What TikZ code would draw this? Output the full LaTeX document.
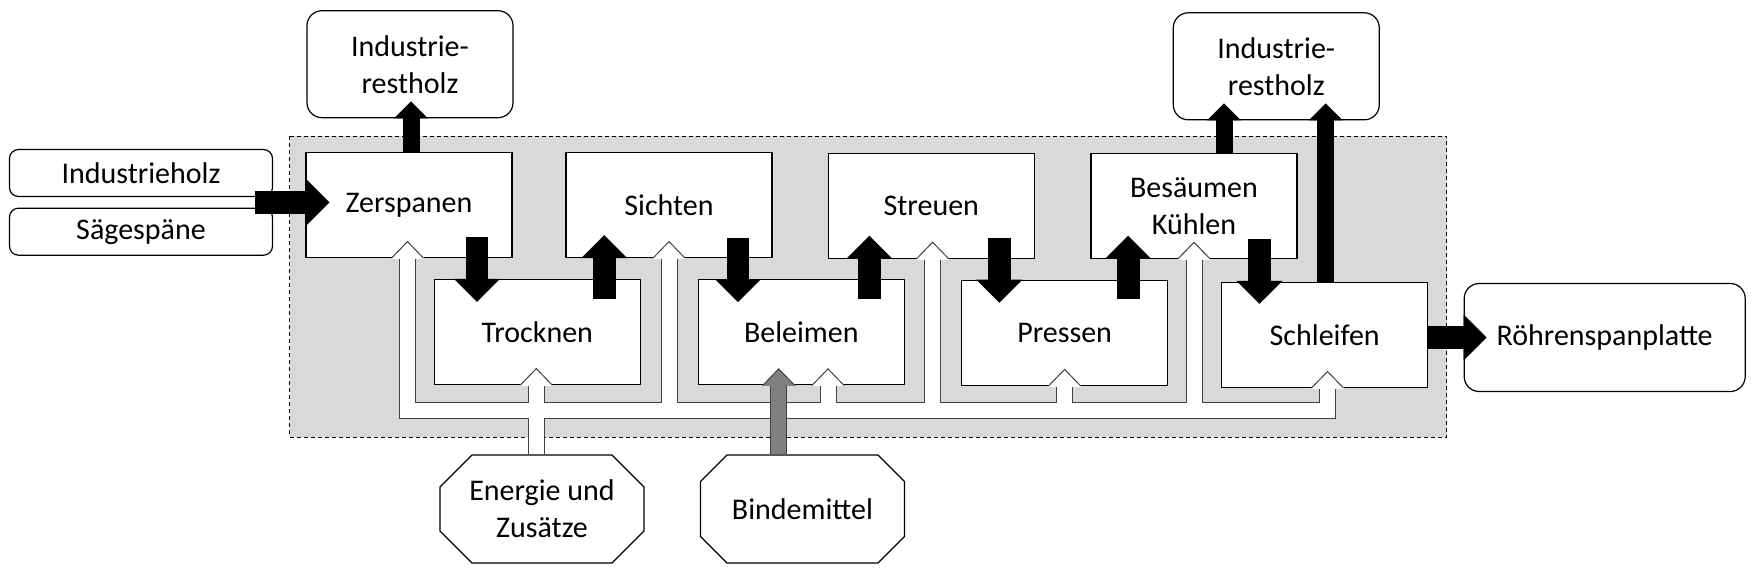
\documentclass[tikz,border=0pt]{standalone}
\usepackage{tikz, xcolor}
\usepackage{fontspec}
\setmainfont{Carlito}
\usetikzlibrary{shapes.misc, arrows.meta, calc}
\newcommand{\unitsize}{0.5pt}
\newcommand{\pipehead}[2]{%
\fill[#2] ([xshift=-16*\unitsize,yshift=-1*\unitsize]#1) rectangle ([xshift=16*\unitsize,yshift=1*\unitsize]#1);
\filldraw[fill=#2, draw=black!75, line width=0.5pt] ([xshift=-16*\unitsize]#1) -- ([yshift=16.5*\unitsize]#1) -- ([xshift=16*\unitsize]#1);
}

\begin{document}
\begin{tikzpicture}
\useasboundingbox (0,0) rectangle (1753*\unitsize,-575*\unitsize);
\tikzstyle{every node}=[font=\fontsize{15pt}{18.5pt}\selectfont,
			align=center,
			inner sep=0pt
			]
\tikzstyle{stage}=[draw, fill=white, line width=0.6pt, minimum width=206*\unitsize, minimum height=105*\unitsize]
\tikzstyle{stock}=[draw, fill=white, line width=0.6pt, rounded corners=15*\unitsize, minimum width=206*\unitsize, minimum height=107*\unitsize]
\tikzstyle{feedbox}=[stock, rounded corners=9*\unitsize, minimum width=263*\unitsize, minimum height=47*\unitsize]
\tikzstyle{supply}=[draw, fill=white, line width=0.6pt, chamfered rectangle, chamfered rectangle xsep=16*\unitsize, chamfered rectangle ysep=16*\unitsize, minimum width=204*\unitsize, minimum height=108*\unitsize]
\tikzstyle{flow}=[line width=11.4pt, -{Triangle[length=11.5pt, width=23pt, line width=0pt]}]
\tikzstyle{spill}=[line width=8.5pt, -{Triangle[length=8.5pt, width=17pt, line width=0pt]}]
\tikzstyle{pipe}=[draw=black!75, line width=0.5pt, double=white, double distance=7.5pt]
\tikzstyle{glue}=[pipe, double=black!50]

\draw[fill=black!15, line width=0.4pt, dash pattern=on 2pt off 1.5pt] (289.5*\unitsize,-136*\unitsize) rectangle (1446.5*\unitsize,-437*\unitsize);

\node[stage] (zer) at (409*\unitsize,-205*\unitsize) {Zerspanen};

\node[stage] (sic) at (669*\unitsize,-205*\unitsize) {Sichten};

\node[stage] (str) at (931.3*\unitsize,-205.6*\unitsize) {Streuen};

\node[stage] (bes) at (1194*\unitsize,-205.7*\unitsize) {Besäumen\\Kühlen};

\node[stage] (tro) at (537.3*\unitsize,-332*\unitsize) {Trocknen};

\node[stage] (bel) at (801.3*\unitsize,-332.3*\unitsize) {Beleimen};

\node[stage] (pre) at (1064.6*\unitsize,-332.8*\unitsize) {Pressen};

\node[stage] (sch) at (1324.7*\unitsize,-334.9*\unitsize) {Schleifen};

\node[feedbox] (hol) at (141*\unitsize,-173*\unitsize) {Industrieholz};

\node[feedbox] (saw) at (141*\unitsize,-231.7*\unitsize) {Sägespäne};

\node[stock] (restA) at (410*\unitsize,-64.2*\unitsize) {Industrie-\\restholz};

\node[stock] (restB) at (1276.3*\unitsize,-66.3*\unitsize) {Industrie-\\restholz};

\node[stock, minimum width=281*\unitsize, minimum height=108*\unitsize] (out) at (1604.7*\unitsize,-337.5*\unitsize) {Röhrenspanplatte};

\node[supply] (ene) at (542*\unitsize,-509*\unitsize) {Energie und\\Zusätze};

\node[supply] (bin) at (802.5*\unitsize,-509*\unitsize) {Bindemittel};

\coordinate (trunk) at (0,-410.7*\unitsize);
\coordinate (feed) at ($(hol.south east)!0.5!(saw.north east)$);
\coordinate (h1) at ([xshift=-1.5*\unitsize]zer.south);
\coordinate (h2) at ([xshift=-1*\unitsize]tro.south);
\coordinate (h3) at (sic.south);
\coordinate (h4) at ([xshift=26.7*\unitsize]bel.south);
\coordinate (h5) at ([xshift=1.3*\unitsize]str.south);
\coordinate (h6) at (pre.south);
\coordinate (h7) at (bes.south);
\coordinate (h8) at ([xshift=2.8*\unitsize]sch.south);
\coordinate (g1) at ([xshift=-22.6*\unitsize]bel.south);

\draw[pipe] (h1) -- (h1 |- trunk) -- (h8 |- trunk) -- (h8)
	(h2) -- (h2 |- ene.north)
	(h3) -- (h3 |- trunk)
	(h4) -- (h4 |- trunk)
	(h5) -- (h5 |- trunk)
	(h6) -- (h6 |- trunk)
	(h7) -- (h7 |- trunk);

\draw[glue] (g1) -- (g1 |- bin.north);

\pipehead{h1}{white}
\pipehead{h2}{white}
\pipehead{h3}{white}
\pipehead{h4}{white}
\pipehead{h5}{white}
\pipehead{h6}{white}
\pipehead{h7}{white}
\pipehead{h8}{white}
\pipehead{g1}{black!50}

\draw[flow] ([xshift=-18*\unitsize]feed) -- ([xshift=24*\unitsize]feed -| zer.west);

\draw[flow] ([xshift=68*\unitsize,yshift=21*\unitsize]zer.south) coordinate (a1) -- ([yshift=-23*\unitsize]a1 |- tro.north);

\draw[flow] ([xshift=67*\unitsize,yshift=-20*\unitsize]tro.north) coordinate (a2) -- ([yshift=23*\unitsize]a2 |- sic.south);

\draw[flow] ([xshift=69*\unitsize,yshift=20*\unitsize]sic.south) coordinate (a3) -- ([yshift=-23*\unitsize]a3 |- bel.north);

\draw[flow] ([xshift=68*\unitsize,yshift=-20*\unitsize]bel.north) coordinate (a4) -- ([yshift=23*\unitsize]a4 |- str.south);

\draw[flow] ([xshift=68*\unitsize,yshift=21*\unitsize]str.south) coordinate (a5) -- ([yshift=-23*\unitsize]a5 |- pre.north);

\draw[flow] ([xshift=63.5*\unitsize,yshift=-19*\unitsize]pre.north) coordinate (a6) -- ([yshift=23*\unitsize]a6 |- bes.south);

\draw[flow] ([xshift=65.5*\unitsize,yshift=20*\unitsize]bes.south) coordinate (a7) -- ([yshift=-22*\unitsize]a7 |- sch.north);

\draw[flow] (sch.east |- out.west) -- ([xshift=23*\unitsize]out.west);

\draw[spill] ([xshift=2*\unitsize]zer.north) coordinate (b1) -- ([yshift=17*\unitsize]b1 |- restA.south);

\draw[spill] ([xshift=30*\unitsize]bes.north) coordinate (b2) -- ([yshift=17*\unitsize]b2 |- restB.south);

\draw[spill] ([xshift=1*\unitsize]sch.north) coordinate (b3) -- ([yshift=17*\unitsize]b3 |- restB.south);

\end{tikzpicture}
\end{document}
